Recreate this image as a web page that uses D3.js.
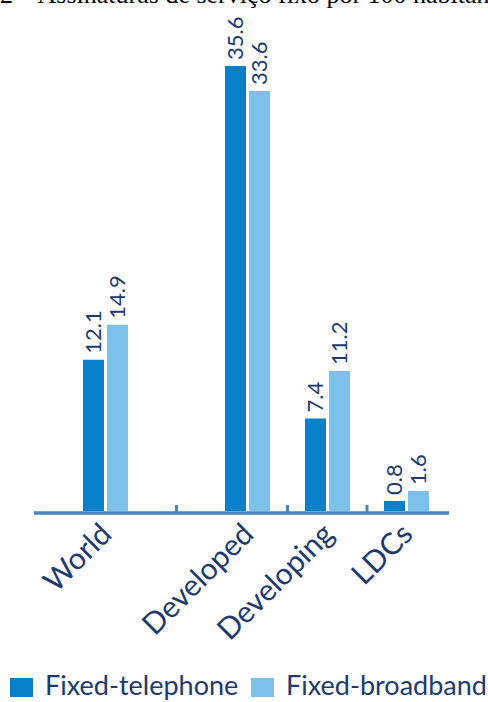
<!DOCTYPE html>
<html>
<head>
<meta charset="utf-8">
<script src="https://cdn.jsdelivr.net/npm/d3@7"></script>
<style>
  body { margin: 0; background: #fff; }
  svg { display: block; }
</style>
</head>
<body>
<svg width="488" height="702"></svg>
<script>
var categories = ["World", "Developed", "Developing", "LDCs"];
var series = ["Fixed-telephone", "Fixed-broadband"];
var telephone = [12.1, 35.6, 7.4, 0.8];
var broadband = [14.9, 33.6, 11.2, 1.6];
var caption = "2 – Assinaturas de serviço fixo por 100 habitantes";

var colors = { "Fixed-telephone": "#0a80c9", "Fixed-broadband": "#7dc1eb" };
var textColor = "#213a6b",
    axisColor = "#4d85bb";

var svg = d3.select("svg");

var data = categories.map(function (c, i) {
    return { cat: c, i: i, values: [
        { key: series[0], value: telephone[i] },
        { key: series[1], value: broadband[i] }
    ] };
});

// group centres are not evenly spaced in the original, so map index -> x piecewise
var x = d3.scaleLinear()
    .domain([0, 1, 2, 3])
    .range([105.5, 247.5, 327.5, 406.5]);

var xInner = d3.scaleBand()
    .domain(series)
    .range([-22.5, 22.5])
    .paddingInner(0.125);

var y = d3.scaleLinear()
    .domain([0, 40])
    .range([511, 11]);

// caption line from the page above, cut off by the top edge as in the source
svg.append("text")
    .attr("x", 0)
    .attr("y", 3)
    .attr("font-family", "'Liberation Serif', 'DejaVu Serif', serif")
    .attr("font-size", 26)
    .attr("fill", "#000")
    .text(caption);

var groups = svg.selectAll(".group")
    .data(data)
    .enter().append("g")
    .attr("class", "group")
    .attr("transform", function (d) { return "translate(" + x(d.i) + ",0)"; });

groups.selectAll("rect")
    .data(function (d) { return d.values; })
    .enter().append("rect")
    .attr("x", function (d) { return xInner(d.key); })
    .attr("width", xInner.bandwidth())
    .attr("y", function (d) { return y(d.value); })
    .attr("height", function (d) { return y(0) - y(d.value); })
    .attr("fill", function (d) { return colors[d.key]; });

groups.selectAll(".val")
    .data(function (d) { return d.values; })
    .enter().append("text")
    .attr("class", "val")
    .attr("transform", function (d) {
        return "translate(" + (xInner(d.key) + xInner.bandwidth() / 2) + "," + (y(d.value) - 6) + ")rotate(-90)";
    })
    .attr("dy", "0.36em")
    .attr("font-family", "Lato, sans-serif")
    .attr("font-size", 22)
    .attr("fill", textColor)
    .text(function (d) { return d.value.toFixed(1); });

// axis line and ticks between groups
svg.append("line")
    .attr("x1", 34).attr("x2", 449)
    .attr("y1", y(0) + 2).attr("y2", y(0) + 2)
    .attr("stroke", axisColor)
    .attr("stroke-width", 3.5);

svg.selectAll(".tick")
    .data(d3.range(categories.length - 1))
    .enter().append("line")
    .attr("class", "tick")
    .attr("x1", function (d) { return x(d + 0.5); })
    .attr("x2", function (d) { return x(d + 0.5); })
    .attr("y1", y(0) - 6).attr("y2", y(0) + 1)
    .attr("stroke", axisColor)
    .attr("stroke-width", 3);

svg.selectAll(".cat")
    .data(data)
    .enter().append("text")
    .attr("class", "cat")
    .attr("transform", function (d) { return "translate(" + (x(d.i) + 8) + ",536)rotate(-45)"; })
    .attr("text-anchor", "end")
    .attr("font-family", "Lato, sans-serif")
    .attr("font-size", 30)
    .attr("fill", textColor)
    .text(function (d) { return d.cat; });

// legend
var legend = svg.append("g").attr("class", "legend");
var legendX = [10, 251];
series.forEach(function (s, i) {
    legend.append("rect")
        .attr("x", legendX[i]).attr("y", 678)
        .attr("width", 23).attr("height", 19)
        .attr("fill", colors[s]);
    legend.append("text")
        .attr("x", legendX[i] + 35).attr("y", 695)
        .attr("font-family", "Lato, sans-serif")
        .attr("font-size", 27)
        .attr("fill", textColor)
        .text(s);
});
</script>
</body>
</html>
